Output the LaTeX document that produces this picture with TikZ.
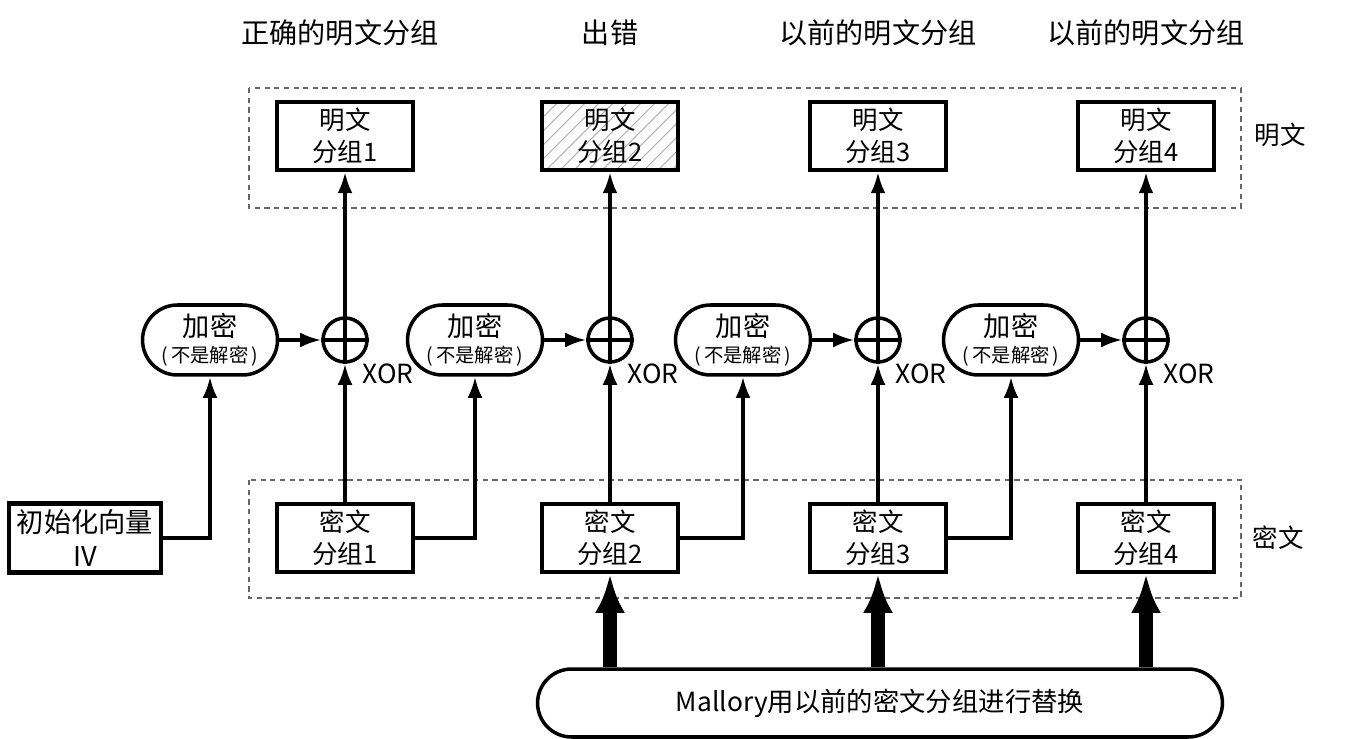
\documentclass[tikz,border=0pt]{standalone}
\usepackage{fontspec}
\setmainfont{Noto Sans CJK SC}
\usetikzlibrary{arrows.meta,calc}
\begin{document}
\begin{tikzpicture}[x=0.02cm,y=-0.02cm,
  blk/.style={draw, line width=2.4pt, minimum width=2.72cm, minimum height=1.36cm, align=center, inner sep=0pt, font=\fontsize{14.5}{18}\selectfont},
  enc/.style={draw, line width=2pt, rounded corners=0.7cm, minimum width=2.7cm, minimum height=1.4cm, align=center, inner sep=0pt, font=\fontsize{15.5}{16}\selectfont},
  xo/.style={draw, circle, line width=2pt, minimum size=0.88cm, inner sep=0pt},
  arr/.style={line width=2pt, -{Latex[length=12pt,width=8.5pt]}},
  big/.style={line width=8pt, -{Latex[length=22pt,width=17pt]}},
  grp/.style={draw, line width=0.7pt, dash pattern=on 3pt off 2.5pt, gray!80!black},
  toplbl/.style={font=\fontsize{16}{18}\selectfont},
  sidelbl/.style={font=\fontsize{14.5}{16}\selectfont},
  xorlbl/.style={font=\fontsize{15}{16}\selectfont},
  hatch/.style={path picture={\foreach \k in {0,14,...,224}{\draw[gray!60,line width=0.6pt] ($(path picture bounding box.south west)+(\k-80,0)$) -- ++(80,-80);}}}
]
\useasboundingbox (0,0) rectangle (1348,739);

% group frames
\draw[grp] (249,88) rectangle (1241,208);
\draw[grp] (249,480) rectangle (1241,598);

% top labels
\node[toplbl] (t1) at (340,33) {正确的明文分组};
\node[toplbl] (t2) at (610,33) {出错};
\node[toplbl] (t3) at (878,33) {以前的明文分组};
\node[toplbl] (t4) at (1146,33) {以前的明文分组};

% side labels
\node[sidelbl] (sp) at (1280,135) {明文};
\node[sidelbl] (sc) at (1278,538) {密文};

% plaintext blocks
\node[blk] (p1) at (345,136) {明文\\分组1};
\node[blk,hatch] (p2) at (610,136) {明文\\分组2};
\node[blk] (p3) at (878,136) {明文\\分组3};
\node[blk] (p4) at (1146,136) {明文\\分组4};

% encryption
\foreach \i/\xx in {1/210,2/475,3/743,4/1011}{
  \node[enc] (e\i) at (\xx,340) {加密\\[-1pt]{\fontsize{11}{12}\selectfont (\,不是解密\,)}};
}

% XOR
\foreach \i/\xx in {1/345,2/610,3/878,4/1146}{
  \node[xo] (x\i) at (\xx,340) {};
  \draw[line width=2pt] (x\i.north) -- (x\i.south) (x\i.west) -- (x\i.east);
  \node[xorlbl] (xl\i) at ([shift={(43,34)}]x\i.center) {XOR};
}

% ciphertext blocks
\node[blk] (c1) at (345,538) {密文\\分组1};
\node[blk] (c2) at (610,538) {密文\\分组2};
\node[blk] (c3) at (878,538) {密文\\分组3};
\node[blk] (c4) at (1146,538) {密文\\分组4};

% IV
\node[blk, minimum width=3.04cm, minimum height=1.38cm, font=\fontsize{15.5}{19}\selectfont] (iv) at (85,538) {初始化向量\\IV};

% Mallory
\node[draw, line width=2pt, rounded corners=0.68cm, minimum width=13.7cm, minimum height=1.36cm, font=\fontsize{15}{16}\selectfont] (mal) at (880,703) {Mallory用以前的密文分组进行替换};

% connectors
\foreach \i in {1,2,3,4}{
  \draw[arr] (x\i.north) -- (p\i.south);
  \draw[arr] (c\i.north) -- (x\i.south);
  \draw[arr] (e\i.east) -- (x\i.west);
}
\draw[arr] (iv.east) -| (e1.south);
\draw[arr] (c1.east) -| (e2.south);
\draw[arr] (c2.east) -| (e3.south);
\draw[arr] (c3.east) -| (e4.south);

\foreach \i in {2,3,4}{
  \draw[big] (mal.north -| c\i) -- (c\i.south);
}
\end{tikzpicture}
\end{document}
